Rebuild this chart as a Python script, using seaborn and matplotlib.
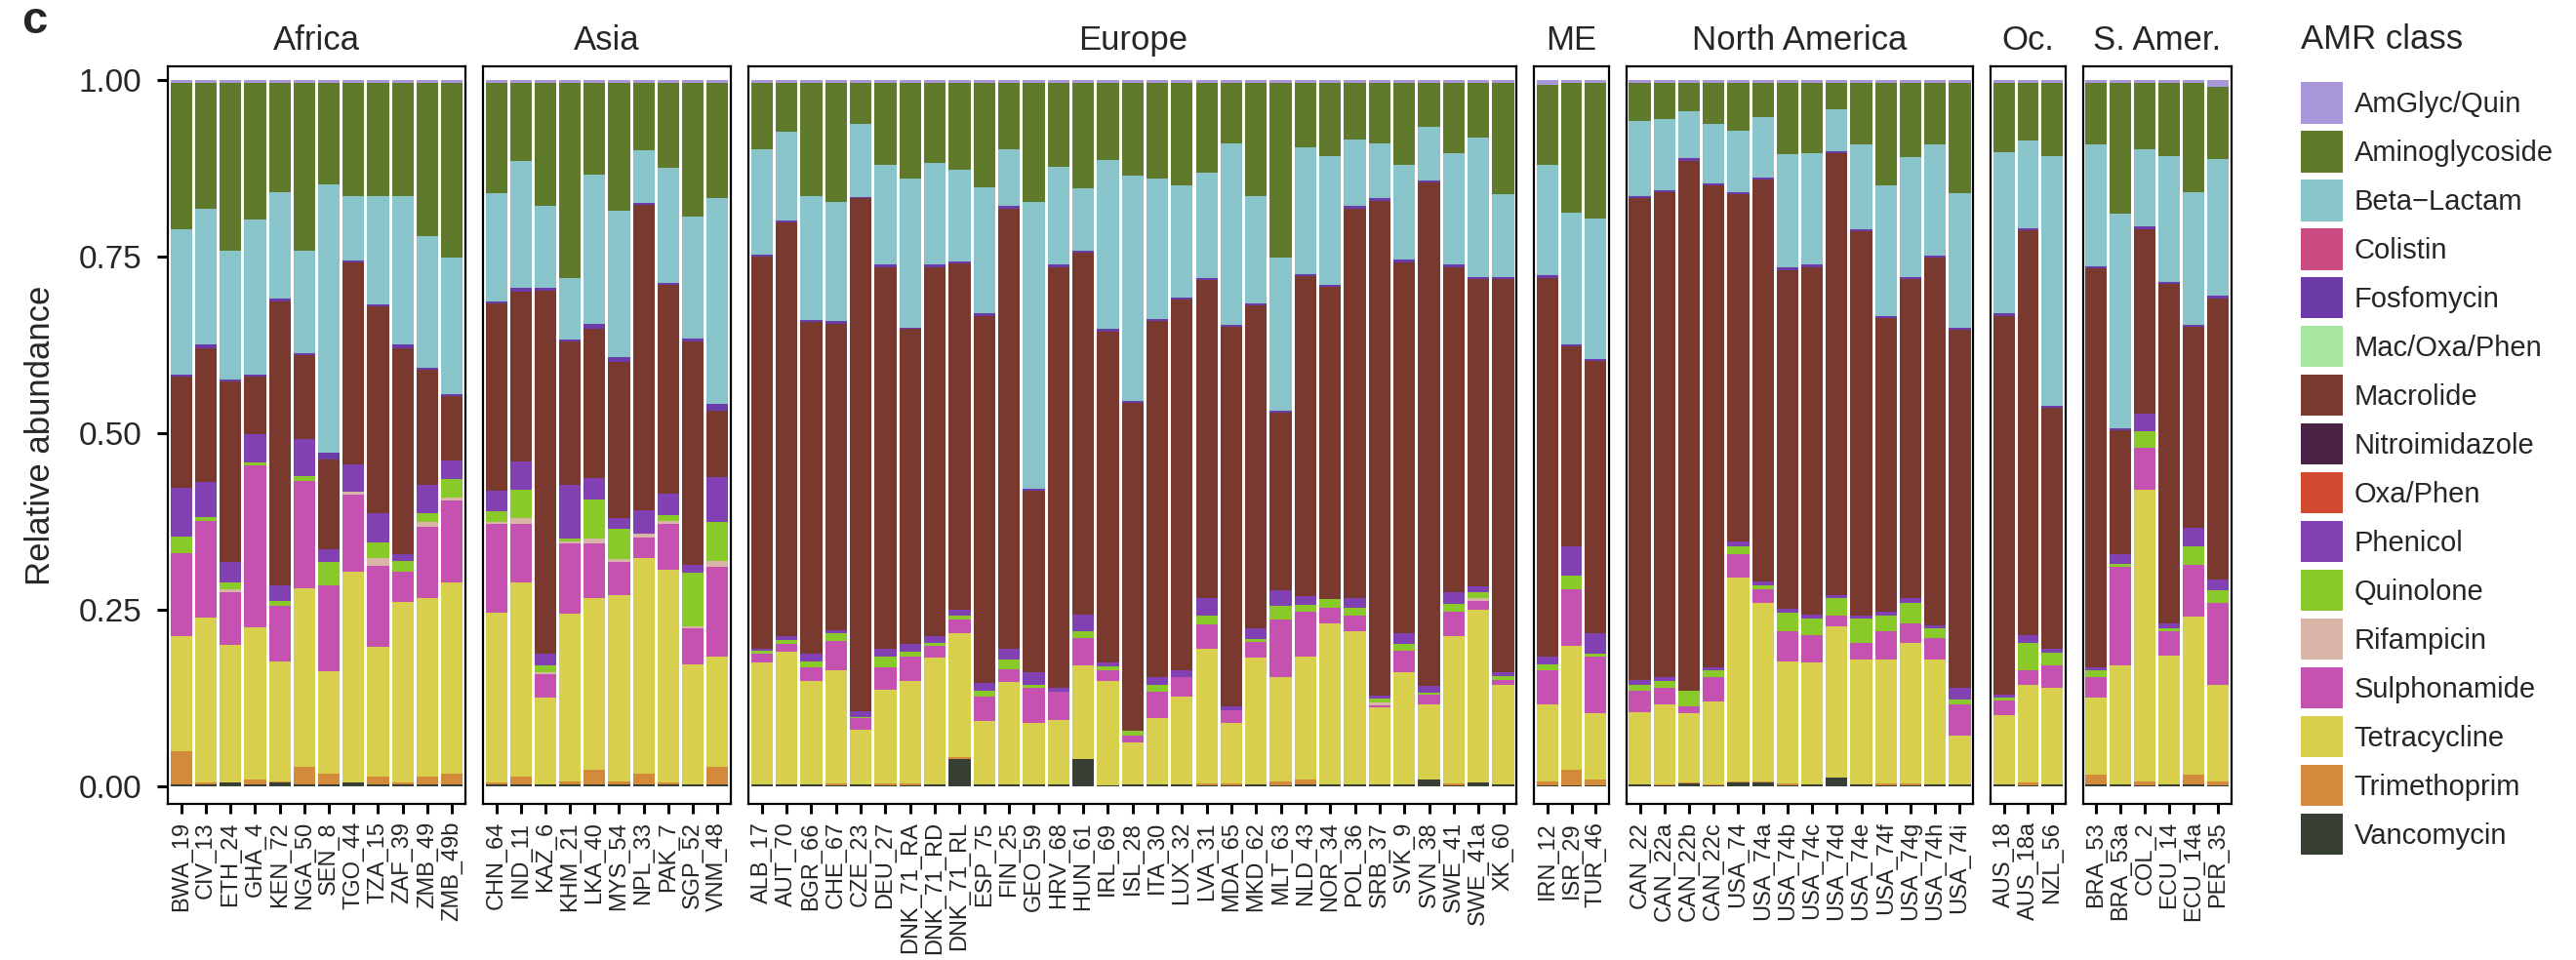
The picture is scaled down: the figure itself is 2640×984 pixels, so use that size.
import numpy as np
import pandas as pd
import matplotlib
matplotlib.use("Agg")
import matplotlib.pyplot as plt
from matplotlib.patches import Patch
import seaborn as sns

sns.set_style("white")
plt.rcParams["font.family"] = ["Liberation Sans", "DejaVu Sans"]

# ---- samples per region ----
regions = ["Africa", "Asia", "Europe", "ME", "North America", "Oc.", "S. Amer."]
africa = ["BWA_19", "CIV_13", "ETH_24", "GHA_4", "KEN_72", "NGA_50", "SEN_8", "TGO_44",
          "TZA_15", "ZAF_39", "ZMB_49", "ZMB_49b"]
asia = ["CHN_64", "IND_11", "KAZ_6", "KHM_21", "LKA_40", "MYS_54", "NPL_33", "PAK_7",
        "SGP_52", "VNM_48"]
europe = ["ALB_17", "AUT_70", "BGR_66", "CHE_67", "CZE_23", "DEU_27", "DNK_71_RA",
          "DNK_71_RD", "DNK_71_RL", "ESP_75", "FIN_25", "GEO_59", "HRV_68", "HUN_61",
          "IRL_69", "ISL_28", "ITA_30", "LUX_32", "LVA_31", "MDA_65", "MKD_62", "MLT_63",
          "NLD_43", "NOR_34", "POL_36", "SRB_37", "SVK_9", "SVN_38", "SWE_41", "SWE_41a",
          "XK_60"]
middle_east = ["IRN_12", "ISR_29", "TUR_46"]
north_america = ["CAN_22", "CAN_22a", "CAN_22b", "CAN_22c", "USA_74", "USA_74a", "USA_74b",
                 "USA_74c", "USA_74d", "USA_74e", "USA_74f", "USA_74g", "USA_74h", "USA_74i"]
oceania = ["AUS_18", "AUS_18a", "NZL_56"]
south_america = ["BRA_53", "BRA_53a", "COL_2", "ECU_14", "ECU_14a", "PER_35"]
region_samples = [africa, asia, europe, middle_east, north_america, oceania, south_america]

# ---- upper edge of each class in the stack (read bottom-up), one value per sample ----
# order of values: Africa | Asia | Europe | ME | North America | Oc. | S. Amer.
van_top = [.002, .002, .005, .002, .005, .002, .002, .005, .002, .002, .003, .002,
           .002, .002, .003, .002, .002, .002, .002, .002, .003, .002,
           .003, .003, .003, .001, .003, .001, .001, .002, .039, .003, .002, .003, .002, .038,
           .001, .002, .002, .002, .001, .001, .002, .001, .002, .003, .003, .002, .003, .010,
           .001, .005, .002,
           .001, .001, .001,
           .003, .001, .004, .001, .006, .006, .001, .002, .012, .003, .001, .001, .002, .002,
           .002, .001, .003,
           .002, .002, .001, .003, .002, .001]
tri_top = [.050, .005, .005, .009, .007, .028, .018, .005, .014, .005, .014, .018,
           .005, .014, .003, .007, .023, .007, .018, .005, .003, .028,
           .003, .003, .003, .004, .003, .004, .004, .003, .041, .003, .002, .003, .002, .038,
           .001, .002, .002, .002, .004, .004, .003, .007, .009, .003, .003, .002, .003, .010,
           .004, .005, .002,
           .007, .024, .009,
           .003, .003, .005, .003, .007, .007, .004, .003, .012, .003, .004, .004, .002, .002,
           .003, .005, .003,
           .016, .002, .007, .003, .016, .007]
tet_top = [.213, .239, .200, .225, .177, .280, .163, .303, .197, .261, .266, .289,
           .245, .288, .126, .244, .266, .270, .323, .307, .172, .183,
           .175, .190, .149, .164, .080, .137, .149, .182, .217, .092, .147, .089, .094, .171,
           .149, .062, .096, .127, .195, .089, .182, .155, .183, .231, .219, .112, .161, .116,
           .212, .250, .144,
           .116, .199, .103,
           .105, .116, .103, .120, .295, .260, .176, .175, .226, .180, .180, .203, .180, .072,
           .101, .144, .140,
           .125, .171, .420, .185, .240, .144]
sul_top = [.330, .376, .275, .454, .255, .432, .284, .413, .312, .303, .367, .404,
           .371, .372, .158, .344, .344, .318, .352, .371, .224, .310,
           .187, .201, .168, .205, .096, .169, .183, .199, .236, .127, .166, .139, .134, .210,
           .164, .072, .134, .154, .229, .108, .204, .236, .247, .253, .242, .115, .192, .130,
           .247, .262, .150,
           .164, .279, .183,
           .135, .139, .113, .155, .329, .279, .219, .214, .242, .203, .219, .231, .210, .116,
           .121, .164, .171,
           .155, .310, .479, .220, .313, .260]
rif_top = [.330, .376, .279, .454, .255, .432, .284, .417, .323, .303, .374, .408,
           .374, .380, .161, .347, .351, .321, .358, .375, .227, .319,
           .188, .201, .168, .205, .096, .169, .183, .199, .236, .127, .166, .139, .134, .210,
           .164, .072, .134, .154, .229, .108, .204, .236, .247, .253, .242, .119, .192, .130,
           .247, .267, .150,
           .164, .279, .183,
           .135, .139, .113, .155, .329, .279, .219, .214, .242, .203, .219, .231, .210, .116,
           .121, .164, .171,
           .155, .310, .479, .220, .313, .260]
qui_top = [.353, .381, .289, .458, .262, .439, .317, .417, .345, .319, .386, .435,
           .389, .420, .171, .351, .406, .365, .358, .384, .302, .374,
           .192, .207, .176, .216, .098, .183, .190, .203, .241, .135, .180, .144, .134, .219,
           .170, .079, .144, .154, .242, .108, .209, .255, .257, .265, .253, .124, .201, .132,
           .258, .275, .156,
           .173, .298, .187,
           .144, .149, .135, .164, .340, .285, .245, .238, .267, .237, .242, .260, .224, .123,
           .125, .203, .189,
           .164, .315, .503, .224, .340, .277]
phe_top = [.422, .431, .317, .498, .284, .492, .336, .455, .386, .328, .427, .461,
           .418, .460, .188, .427, .436, .380, .391, .414, .314, .437,
           .195, .212, .188, .221, .106, .195, .201, .212, .250, .146, .194, .161, .140, .243,
           .175, .079, .154, .164, .267, .113, .223, .277, .269, .265, .267, .128, .216, .142,
           .274, .283, .161,
           .183, .339, .217,
           .151, .154, .135, .169, .347, .290, .251, .243, .271, .242, .247, .267, .228, .139,
           .130, .214, .194,
           .169, .329, .527, .231, .366, .292]
mac_top = [.580, .620, .573, .580, .686, .610, .463, .741, .679, .620, .589, .552,
           .683, .700, .702, .630, .647, .600, .823, .709, .629, .532,
           .750, .798, .657, .655, .832, .735, .647, .735, .740, .666, .818, .418, .735, .755,
           .644, .543, .658, .689, .716, .650, .680, .529, .722, .707, .818, .829, .742, .855,
           .735, .718, .718,
           .720, .622, .602,
           .833, .841, .885, .850, .838, .859, .731, .735, .896, .786, .663, .718, .748, .646,
           .666, .787, .536,
           .733, .504, .789, .711, .650, .691]
fos_top = [.583, .626, .576, .583, .691, .613, .472, .744, .682, .626, .592, .555,
           .686, .705, .705, .633, .654, .608, .826, .712, .634, .541,
           .753, .801, .660, .658, .834, .738, .649, .738, .743, .669, .821, .421, .738, .758,
           .647, .545, .661, .692, .719, .653, .683, .532, .725, .710, .821, .832, .745, .858,
           .738, .721, .721,
           .723, .625, .605,
           .836, .844, .889, .853, .841, .862, .734, .738, .899, .789, .666, .721, .751, .649,
           .669, .790, .539,
           .736, .507, .792, .714, .653, .694]
bet_top = [.788, .818, .758, .802, .841, .758, .852, .836, .836, .836, .779, .749,
           .839, .885, .821, .719, .866, .815, .900, .875, .806, .832,
           .901, .927, .836, .827, .938, .879, .860, .882, .872, .848, .902, .827, .877, .846,
           .887, .865, .860, .851, .868, .910, .836, .749, .904, .892, .916, .910, .879, .934,
           .896, .918, .838,
           .879, .812, .803,
           .942, .945, .955, .938, .928, .947, .895, .896, .958, .908, .851, .890, .909, .840,
           .897, .914, .892,
           .908, .810, .901, .892, .841, .888]
ami_top = [.995, .995, .995, .995, .995, .995, .995, .995, .995, .995, .995, .995,
           .995, .995, .995, .995, .995, .995, .995, .995, .995, .995,
           .995, .995, .995, .995, .995, .995, .995, .995, .995, .995, .995, .995, .995, .995,
           .995, .995, .995, .995, .995, .995, .995, .995, .995, .995, .995, .995, .995, .995,
           .995, .995, .995,
           .993, .995, .995,
           .995, .995, .995, .995, .995, .995, .995, .995, .995, .995, .995, .995, .995, .995,
           .995, .995, .995,
           .995, .995, .995, .995, .995, .990]

classes = ["AmGlyc/Quin", "Aminoglycoside", "Beta\u2212Lactam", "Colistin", "Fosfomycin",
           "Mac/Oxa/Phen", "Macrolide", "Nitroimidazole", "Oxa/Phen", "Phenicol", "Quinolone",
           "Rifampicin", "Sulphonamide", "Tetracycline", "Trimethoprim", "Vancomycin"]
class_colors = ["#A897D9", "#5F7A2B", "#8AC4CB", "#C94B7F", "#6B3CA8", "#A6E6A0",
                "#7A392E", "#4A2245", "#D14A30", "#8141B3", "#8AC92A", "#D9B5A8",
                "#C552B0", "#D8D04C", "#D38A3A", "#373F35"]
palette = dict(zip(classes, class_colors))

# ---- long table: one row per sample and class ----
all_samples = [s for group in region_samples for s in group]
all_regions = [r for r, group in zip(regions, region_samples) for _ in group]
all_pos = [i for group in region_samples for i in range(len(group))]
n_total = len(all_samples)
for arr in [van_top, tri_top, tet_top, sul_top, rif_top, qui_top, phe_top,
            mac_top, fos_top, bet_top, ami_top]:
    assert len(arr) == n_total, len(arr)

zeros = [0.0] * n_total
ones = [1.0] * n_total
edges = {
    "Vancomycin": (zeros, van_top),
    "Trimethoprim": (van_top, tri_top),
    "Tetracycline": (tri_top, tet_top),
    "Sulphonamide": (tet_top, sul_top),
    "Rifampicin": (sul_top, rif_top),
    "Quinolone": (rif_top, qui_top),
    "Phenicol": (qui_top, phe_top),
    "Macrolide": (phe_top, mac_top),
    "Fosfomycin": (mac_top, fos_top),
    "Beta\u2212Lactam": (fos_top, bet_top),
    "Aminoglycoside": (bet_top, ami_top),
    "AmGlyc/Quin": (ami_top, ones),
}
rows = []
for i in range(n_total):
    for cls in classes:
        if cls in edges:
            lo, hi = edges[cls]
            val = max(hi[i] - lo[i], 0.0)
        else:
            val = 0.0
        rows.append((all_regions[i], all_samples[i], all_pos[i], cls, val))
df = pd.DataFrame(rows, columns=["region", "sample", "pos", "amr", "value"])

# ---- figure ----
W, H = 2640, 984
fig = plt.figure(figsize=(W / 100, H / 100), dpi=100)

panel_top, panel_bottom = 68, 824
left_px, right_px, gap_px = 172, 2287, 18
bar_px = (right_px - left_px - gap_px * (len(regions) - 1)) / n_total
x0 = left_px
axes = []
for reg, names in zip(regions, region_samples):
    n = len(names)
    w = n * bar_px
    ax = fig.add_axes([x0 / W, (H - panel_bottom) / H, w / W, (panel_bottom - panel_top) / H])
    x0 += w + gap_px
    sub = df[df["region"] == reg]
    sns.histplot(data=sub, x="pos", weights="value", hue="amr", hue_order=classes,
                 palette=palette, multiple="stack", discrete=True, shrink=0.88,
                 linewidth=0, alpha=1, legend=False, ax=ax)
    ax.set_xlim(-0.55, n - 0.45)
    ax.set_ylim(-0.025, 1.019)
    ax.set_xticks(range(n))
    ax.set_xticklabels(names, rotation=90, ha="center", va="top", fontsize=17)
    ax.set_xlabel("")
    ax.set_ylabel("")
    ax.set_title(reg, fontsize=25, pad=12)
    for sp in ax.spines.values():
        sp.set_visible(True)
        sp.set_color("black")
        sp.set_linewidth(1.6)
    ax.tick_params(axis="x", length=7, width=2.2, color="black", direction="out",
                   bottom=True, pad=6)
    ax.tick_params(axis="y", left=False, labelleft=False)
    axes.append(ax)

ax0 = axes[0]
ax0.set_yticks([0, 0.25, 0.5, 0.75, 1.0])
ax0.set_yticklabels(["0.00", "0.25", "0.50", "0.75", "1.00"], fontsize=24)
ax0.tick_params(axis="y", left=True, labelleft=True, length=8, width=2.2,
                color="black", direction="out", pad=11)
ax0.set_ylabel("Relative abundance", fontsize=25)
ax0.yaxis.set_label_coords((58 - left_px) / (12 * bar_px), 0.5)

fig.text(22 / W, 1 - 22 / H, "c", fontsize=34, fontweight="bold", va="center", ha="left")

# legend
fig.text(2358 / W, 1 - 40 / H, "AMR class", fontsize=25, va="center", ha="left")
handles = [Patch(facecolor=palette[c], edgecolor="none", label=c) for c in classes]
leg = fig.legend(handles=handles, loc="upper left", bbox_to_anchor=(2358 / W, 1 - 84 / H),
                 frameon=False, fontsize=21,
                 handlelength=1.46, handleheight=1.865, labelspacing=0.257,
                 handletextpad=0.42, borderpad=0, borderaxespad=0)

fig.savefig("out.png", dpi=100)
